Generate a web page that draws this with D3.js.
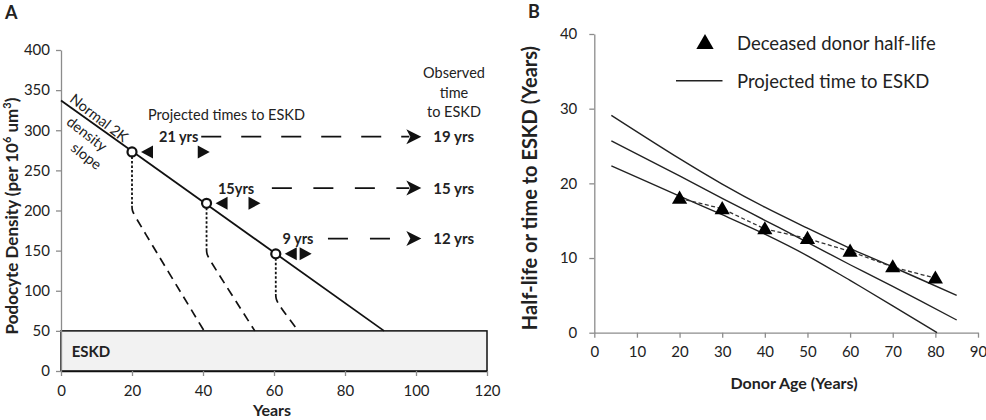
<!DOCTYPE html>
<html>
<head>
<meta charset="utf-8">
<script src="https://cdn.jsdelivr.net/npm/d3@7"></script>
<style>
  body { margin: 0; background: #fff; }
  svg text { font-family: Lato, "Open Sans", sans-serif; fill: #222; }
</style>
</head>
<body>
<div id="chart"></div>
<script>
// ---- panel A data ----
const slopeYears = [0, 91];
const slopeDensity = [337, 50];
const circleYears = [20, 41, 60.5];
const circleDensity = [273, 209, 146];
// where the dotted drop ends and where the dashed decline reaches ESKD
const dropDensity = [206, 152, 96];
const eskdYears = [40.3, 54.6, 66.8];
const rowDensity = [292, 228, 165];
const projLabels = ["21 yrs", "15yrs", "9 yrs"];
const projLabelYears = [27.6, 44.2, 62.4];
const rightTriYears = [41.9, 56.2, 70.6];
const dashStartYears = [39.5, 59.4, 75.2];
const arrowTipYear = 101.5;
const observedLabels = ["19 yrs", "15 yrs", "12 yrs"];
const eskdLimit = 50;
const xTicksA = [0, 20, 40, 60, 80, 100, 120];
const yTicksA = [0, 50, 100, 150, 200, 250, 300, 350, 400];

// ---- panel B data ----
const donorAge = [20, 30, 40, 50, 60, 70, 80];
const halfLife = [18.0, 16.6, 13.9, 12.6, 10.9, 8.8, 7.3];
const projAge = [4, 20, 30, 40, 50, 60, 70, 85];
const projHigh = [29.1, 23.3, 19.9, 16.8, 14.0, 11.3, 8.8, 5.0];
const projMid = [25.7, 21.0, 18.0, 15.05, 12.1, 9.1, 6.2, 1.7];
const projLowAge = [4, 20, 30, 40, 50, 60, 70, 80.4];
const projLow = [22.35, 18.3, 15.8, 13.2, 10.3, 7.0, 3.6, 0];
const xTicksB = [0, 10, 20, 30, 40, 50, 60, 70, 80, 90];
const yTicksB = [0, 10, 20, 30, 40];

const svg = d3.select("#chart").append("svg")
  .attr("width", 986).attr("height", 420);

const axisGrey = "#8c8c8c";

function styleAxis(g) {
  g.select(".domain").attr("stroke", axisGrey).attr("stroke-width", 1.3);
  g.selectAll(".tick line").attr("stroke", axisGrey).attr("stroke-width", 1.3);
  g.selectAll(".tick text").style("font-size", "15px").attr("fill", "#222");
}

// ================= PANEL A =================
const xA = d3.scaleLinear().domain([0, 120]).range([61, 487]);
const yA = d3.scaleLinear().domain([0, 400]).range([371, 50]);

svg.append("text").attr("x", 5).attr("y", 19)
  .style("font-size", "18px").style("font-weight", "bold").text("A");

// ESKD box
svg.append("rect")
  .attr("x", xA(0)).attr("y", yA(eskdLimit))
  .attr("width", xA(120) - xA(0)).attr("height", yA(0) - yA(eskdLimit))
  .attr("fill", "#f2f2f2").attr("stroke", "#111").attr("stroke-width", 1.5);
svg.append("text").attr("x", xA(3)).attr("y", yA(18))
  .style("font-size", "15px").style("font-weight", "bold").text("ESKD");

svg.append("g").attr("transform", `translate(${xA(0)},0)`)
  .call(d3.axisLeft(yA).tickValues(yTicksA).tickSize(5).tickPadding(6).tickSizeOuter(0))
  .call(styleAxis);
svg.append("g").attr("transform", `translate(0,${yA(0)})`)
  .call(d3.axisBottom(xA).tickValues(xTicksA).tickSize(5).tickPadding(9).tickSizeOuter(0))
  .call(styleAxis)
  .call(g => g.select(".domain").attr("stroke", "#111"));

svg.append("text")
  .attr("transform", `translate(18,216) rotate(-90)`)
  .attr("text-anchor", "middle")
  .style("font-size", "17px").style("font-weight", "bold")
  .call(t => {
    t.append("tspan").text("Podocyte Density (per 10");
    t.append("tspan").attr("dy", -7).style("font-size", "11px").text("6");
    t.append("tspan").attr("dy", 7).text(" um");
    t.append("tspan").attr("dy", -7).style("font-size", "11px").text("3");
    t.append("tspan").attr("dy", 7).text(")");
  });
svg.append("text").attr("x", 272).attr("y", 416).attr("text-anchor", "middle")
  .style("font-size", "16px").style("font-weight", "bold").text("Years");

// normal slope line
svg.append("line")
  .attr("x1", xA(slopeYears[0])).attr("y1", yA(slopeDensity[0]))
  .attr("x2", xA(slopeYears[1])).attr("y2", yA(slopeDensity[1]))
  .attr("stroke", "#111").attr("stroke-width", 1.8);

const ang = Math.atan2(yA(slopeDensity[1]) - yA(slopeDensity[0]), xA(slopeYears[1]) - xA(slopeYears[0])) * 180 / Math.PI;
const slopeLbl = svg.append("g")
  .attr("transform", `translate(${xA(10.9)},${yA(302)}) rotate(${ang + 2})`);
slopeLbl.append("text").attr("x", -7).attr("y", -3).attr("text-anchor", "middle")
  .style("font-size", "14.5px").text("Normal 2K");
slopeLbl.append("text").attr("x", -7).attr("y", 17).attr("text-anchor", "middle")
  .style("font-size", "14.5px").text("density");
slopeLbl.append("text").attr("x", 6).attr("y", 35).attr("text-anchor", "middle")
  .style("font-size", "14.5px").text("slope");

svg.append("text").attr("x", 148).attr("y", 120)
  .style("font-size", "14.5px").text("Projected times to ESKD");

svg.append("g").selectAll("text")
  .data(["Observed", "time", "to ESKD"])
  .join("text")
  .attr("x", 454).attr("y", (d, i) => 78 + i * 19.5)
  .attr("text-anchor", "middle").style("font-size", "14.5px")
  .text(d => d);

// dotted drops and dashed declines
circleYears.forEach((yr, i) => {
  svg.append("line")
    .attr("x1", xA(yr)).attr("y1", yA(circleDensity[i]))
    .attr("x2", xA(yr)).attr("y2", yA(dropDensity[i]))
    .attr("stroke", "#111").attr("stroke-width", 1.8).attr("stroke-dasharray", "2.5,2");
  svg.append("path")
    .attr("d", d3.line().x(d => xA(d[0])).y(d => yA(d[1])).curve(d3.curveBasis)([
      [yr, dropDensity[i]], [yr, dropDensity[i] - 6], [yr + 0.9, dropDensity[i] - 14], [eskdYears[i], eskdLimit]
    ]))
    .attr("fill", "none").attr("stroke", "#111").attr("stroke-width", 1.7)
    .attr("stroke-dasharray", "9,6");
});

// horizontal dashed arrows
const arrowHead = "M0,0 L-15,-7.5 L-11,0 L-15,7.5 Z";
const dashPatterns = ["20,20", "20,21.5", "20,22"];
rowDensity.forEach((dv, i) => {
  svg.append("line")
    .attr("x1", xA(dashStartYears[i])).attr("y1", yA(dv))
    .attr("x2", xA(arrowTipYear) - 12).attr("y2", yA(dv))
    .attr("stroke", "#111").attr("stroke-width", 1.8)
    .attr("stroke-dasharray", dashPatterns[i]);
  svg.append("path").attr("d", arrowHead)
    .attr("transform", `translate(${xA(arrowTipYear)},${yA(dv)})`)
    .attr("fill", "#111");
  svg.append("text").attr("x", xA(arrowTipYear) + 12).attr("y", yA(dv) + 5.5)
    .style("font-size", "15px").style("font-weight", "bold").text(observedLabels[i]);
  svg.append("text").attr("x", xA(projLabelYears[i])).attr("y", yA(dv) + 5.5)
    .style("font-size", "14.5px").style("font-weight", "bold").text(projLabels[i]);
  // left-pointing triangle next to circle
  const cx = xA(circleYears[i]), cy = yA(circleDensity[i]);
  svg.append("path")
    .attr("d", `M${cx + 9},${cy} L${cx + 21},${cy - 6.5} L${cx + 21},${cy + 6.5} Z`)
    .attr("fill", "#111");
  const rx = xA(rightTriYears[i]);
  svg.append("path")
    .attr("d", `M${rx},${cy} L${rx - 12},${cy - 6.5} L${rx - 12},${cy + 6.5} Z`)
    .attr("fill", "#111");
});

svg.append("g").selectAll("circle")
  .data(circleYears)
  .join("circle")
  .attr("cx", d => xA(d)).attr("cy", (d, i) => yA(circleDensity[i]))
  .attr("r", 4.5).attr("fill", "#fff").attr("stroke", "#111").attr("stroke-width", 2.2);

// ================= PANEL B =================
const xB = d3.scaleLinear().domain([0, 90]).range([594.3, 978]);
const yB = d3.scaleLinear().domain([0, 40]).range([332.7, 34]);

svg.append("text").attr("x", 528).attr("y", 18)
  .style("font-size", "18px").style("font-weight", "bold").text("B");

svg.append("g").attr("transform", `translate(${xB(0)},0)`)
  .call(d3.axisLeft(yB).tickValues(yTicksB).tickSize(5).tickPadding(12).tickSizeOuter(0))
  .call(styleAxis);
svg.append("g").attr("transform", `translate(0,${yB(0)})`)
  .call(d3.axisBottom(xB).tickValues(xTicksB).tickSize(5).tickPadding(9).tickSizeOuter(0))
  .call(styleAxis);

svg.append("text")
  .attr("transform", `translate(537,188) rotate(-90)`)
  .attr("text-anchor", "middle")
  .style("font-size", "20px").style("font-weight", "bold")
  .text("Half-life or time to ESKD (Years)");
svg.append("text").attr("x", 794).attr("y", 389).attr("text-anchor", "middle")
  .style("font-size", "16px").style("font-weight", "bold").text("Donor Age (Years)");

const lineB = d3.line().x(d => xB(d[0])).y(d => yB(d[1])).curve(d3.curveCatmullRom);
[[projAge, projHigh], [projAge, projMid], [projLowAge, projLow]].forEach(([ages, vals]) => {
  svg.append("path")
    .attr("d", lineB(ages.map((a, i) => [a, vals[i]])))
    .attr("fill", "none").attr("stroke", "#222").attr("stroke-width", 1.4);
});

svg.append("path")
  .attr("d", d3.line().x(d => xB(d[0])).y(d => yB(d[1]))(donorAge.map((a, i) => [a, halfLife[i]])))
  .attr("fill", "none").attr("stroke", "#333").attr("stroke-width", 1.3)
  .attr("stroke-dasharray", "4,2.5");

const tri = d3.symbol().type(d3.symbolTriangle).size(100);
svg.append("g").selectAll("path")
  .data(donorAge)
  .join("path")
  .attr("d", tri)
  .attr("transform", (d, i) => `translate(${xB(d)},${yB(halfLife[i]) + 1})`)
  .attr("fill", "#000");

// legend
svg.append("path").attr("d", d3.symbol().type(d3.symbolTriangle).size(130))
  .attr("transform", "translate(705,44)").attr("fill", "#000");
svg.append("text").attr("x", 737).attr("y", 49.5)
  .style("font-size", "18.5px").text("Deceased donor half-life");
svg.append("line").attr("x1", 676).attr("x2", 722.5).attr("y1", 80.7).attr("y2", 80.7)
  .attr("stroke", "#222").attr("stroke-width", 1.5);
svg.append("text").attr("x", 737).attr("y", 87.5)
  .style("font-size", "18.5px").text("Projected time to ESKD");
</script>
</body>
</html>
